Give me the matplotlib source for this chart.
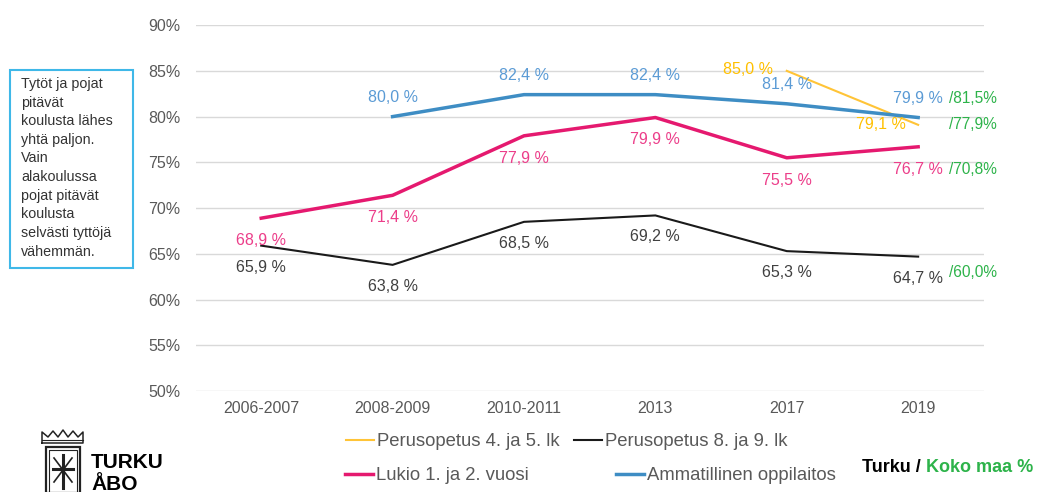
import matplotlib
matplotlib.use("Agg")
import matplotlib.pyplot as plt
import numpy as np
from matplotlib.patches import Rectangle
from matplotlib.lines import Line2D

categories = ["2006-2007", "2008-2009", "2010-2011", "2013", "2017", "2019"]
peruso_45 = [np.nan, np.nan, np.nan, np.nan, 85.0, 79.1]
peruso_89 = [65.9, 63.8, 68.5, 69.2, 65.3, 64.7]
lukio = [68.9, 71.4, 77.9, 79.9, 75.5, 76.7]
ammat = [np.nan, 80.0, 82.4, 82.4, 81.4, 79.9]
# national (Koko maa) values for 2019, per series
koko_maa_ammat = 81.5
koko_maa_p45 = 77.9
koko_maa_lukio = 70.8
koko_maa_p89 = 60.0
yticks = [50, 55, 60, 65, 70, 75, 80, 85, 90]
series_names = ["Perusopetus 4. ja 5. lk", "Perusopetus 8. ja 9. lk",
                "Lukio 1. ja 2. vuosi", "Ammatillinen oppilaitos"]

C_Y = "#FFC437"
C_K = "#1a1a1a"
C_P = "#E5196F"
C_B = "#3E8DC4"
C_G = "#2DB34A"
LBL_Y = "#FFC000"
LBL_K = "#404040"
LBL_P = "#EC3E8A"
LBL_B = "#5B9BD5"
GRAY = "#595959"

plt.rcParams["font.family"] = ["Liberation Sans", "DejaVu Sans"]

fig = plt.figure(figsize=(10.4, 4.92), dpi=100)
ax = fig.add_axes([0.188, 0.205, 0.758, 0.744])
x = np.arange(len(categories))

LW_THIN, LW_THICK = 1.5, 2.5
ax.plot(x, peruso_45, color=C_Y, lw=LW_THIN)
ax.plot(x, peruso_89, color=C_K, lw=LW_THIN)
ax.plot(x, lukio, color=C_P, lw=LW_THICK)
ax.plot(x, ammat, color=C_B, lw=LW_THICK)

ax.set_xlim(-0.5, len(categories) - 0.5)
ax.set_ylim(50, 90)
ax.set_yticks(yticks)
ax.set_yticklabels([f"{t}%" for t in yticks])
ax.set_xticks(x)
ax.set_xticklabels(categories)
ax.grid(axis="y", color="#d9d9d9", lw=1)
ax.set_axisbelow(True)
for s in ax.spines.values():
    s.set_visible(False)
ax.tick_params(length=0, labelsize=11.5, colors=GRAY)
ax.tick_params(axis="y", pad=11)
ax.tick_params(axis="x", pad=7)

def fmt(v):
    return f"{v:.1f}".replace(".", ",") + " %"

fs = 11.5
OFF_K, OFF_P, OFF_B = -15.5, -16, 14
for i, v in enumerate(peruso_89):
    ax.annotate(fmt(v), (i, v), xytext=(0, OFF_K), textcoords="offset points",
                ha="center", va="center", color=LBL_K, fontsize=fs)
for i, v in enumerate(lukio):
    ax.annotate(fmt(v), (i, v), xytext=(0, OFF_P), textcoords="offset points",
                ha="center", va="center", color=LBL_P, fontsize=fs)
for i, v in enumerate(ammat):
    if np.isnan(v):
        continue
    ax.annotate(fmt(v), (i, v), xytext=(0, OFF_B), textcoords="offset points",
                ha="center", va="center", color=LBL_B, fontsize=fs)
ax.annotate(fmt(peruso_45[4]), (4, peruso_45[4]), xytext=(-10, 1), textcoords="offset points",
            ha="right", va="center", color=LBL_Y, fontsize=fs)
ax.annotate(fmt(peruso_45[5]), (5, peruso_45[5]), xytext=(-9, 0), textcoords="offset points",
            ha="right", va="center", color=LBL_Y, fontsize=fs)

def gfmt(v):
    return "/" + f"{v:.1f}".replace(".", ",") + "%"

for kv, tv, dy in [(koko_maa_ammat, ammat[5], OFF_B), (koko_maa_p45, peruso_45[5], 0),
                   (koko_maa_lukio, lukio[5], OFF_P), (koko_maa_p89, peruso_89[5], OFF_K + 4)]:
    ax.annotate(gfmt(kv), (5, tv), xytext=(22, dy), textcoords="offset points",
                ha="left", va="center", color=C_G, fontsize=11.2)

# Text box
fig.patches.append(Rectangle((10 / 1040, 1 - 268 / 492), 123 / 1040, 198 / 492,
                             transform=fig.transFigure, fill=False, ec="#3FB8E8", lw=1.5))
fig.text(21 / 1040, 1 - 77 / 492,
         "Tytöt ja pojat\npitävät\nkoulusta lähes\nyhtä paljon.\nVain\nalakoulussa\npojat pitävät\nkoulusta\nselvästi tyttöjä\nvähemmän.",
         ha="left", va="top", fontsize=10.3, color="#333333", linespacing=1.42)

# Legend: Excel-like flow layout, one entry each
leg_specs = [
    (Line2D([], [], color=C_Y, lw=LW_THIN), series_names[0], 346, 442),
    (Line2D([], [], color=C_K, lw=LW_THIN), series_names[1], 574, 442),
    (Line2D([], [], color=C_P, lw=LW_THICK), series_names[2], 345, 476),
    (Line2D([], [], color=C_B, lw=LW_THICK), series_names[3], 616, 476),
]
for h, lab, px, py in leg_specs:
    fig.legend([h], [lab], loc="center left", bbox_to_anchor=(px / 1040, 1 - py / 492),
               frameon=False, fontsize=13.3, handlelength=1.5, handletextpad=0.2,
               borderpad=0, borderaxespad=0, labelcolor=GRAY)

# Turku / Koko maa %
t1 = fig.text(862 / 1040, 1 - 468 / 492, "Turku / ", fontsize=13, fontweight="bold",
              color="black", ha="left", va="center")
fig.canvas.draw()
bb = t1.get_window_extent()
fig.text(bb.x1 / 1040, 1 - 468 / 492, "Koko maa %", fontsize=13, fontweight="bold",
         color=C_G, ha="left", va="center")

# Logo
fig.text(91 / 1040, 1 - 468 / 492, "TURKU", fontsize=15, fontweight="bold",
         color="black", ha="left", va="baseline")
fig.text(91 / 1040, 1 - 490 / 492, "ÅBO", fontsize=15, fontweight="bold",
         color="black", ha="left", va="baseline")
lax = fig.add_axes([38 / 1040, 0, 48 / 1040, 64 / 492])
lax.set_xlim(38, 86)
lax.set_ylim(492, 428)
lax.axis("off")
lax.add_patch(Rectangle((46, 447), 34, 46, fill=False, ec="#222222", lw=1.6))
lax.add_patch(Rectangle((49, 450), 28, 44, fill=False, ec="#222222", lw=0.8))
crown_x = [42, 42, 48, 53, 58, 63, 68, 73, 78, 83, 83, 42]
crown_y = [443, 432, 437, 431, 437, 430, 437, 431, 437, 432, 443, 443]
lax.plot(crown_x, crown_y, color="#222222", lw=1.1)
lax.plot([42, 83], [440, 440], color="#222222", lw=0.8)
lax.plot([63, 63], [455, 488], color="#222222", lw=2.2)
lax.plot([53, 73], [469, 469], color="#222222", lw=2.2)
lax.plot([54, 72], [458, 482], color="#222222", lw=1.2)
lax.plot([54, 72], [482, 458], color="#222222", lw=1.2)

fig.savefig("out.png", dpi=100)
